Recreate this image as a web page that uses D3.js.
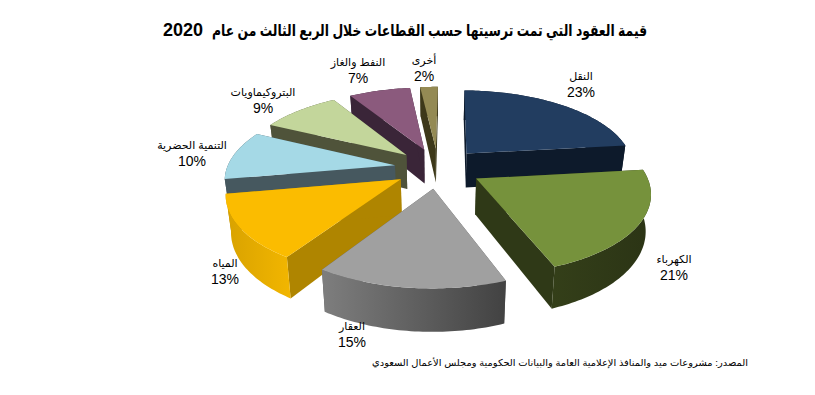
<!DOCTYPE html>
<html lang="ar">
<head>
<meta charset="utf-8">
<script src="https://cdn.jsdelivr.net/npm/d3@7"></script>
<style>
    html, body { margin: 0; padding: 0; background: #fff; }
    svg { display: block; font-family: "Liberation Sans", Arial, "DejaVu Sans", sans-serif; }
</style>
</head>
<body>
<div id="chart"></div>
<script>
// Données
const sectors = ["النقل", "الكهرباء", "العقار", "المياه", "التنمية الحضرية", "البتروكيماويات", "النفط والغاز", "أخرى"];
const shares = [23, 21, 15, 13, 10, 9, 7, 2];

const chartTitle = "قيمة العقود التي تمت ترسيتها حسب القطاعات خلال الربع الثالث من عام";
const chartYear = "2020";
const sourceNote = "المصدر: مشروعات ميد والمنافذ الإعلامية العامة والبيانات الحكومية ومجلس الأعمال السعودي";

// Couleurs : dessus, coupe, paroi (clair -> foncé)
const topColors = ["#223d60", "#76923c", "#a0a0a0", "#fbbc00", "#a5d9e6", "#c3d69b", "#8b5a7d", "#948a54"];
const cutColors = ["#0d1a2b", "#2f3917", "#585858", "#af8500", "#46585f", "#4f533a", "#3a2538", "#3d3819"];
const wallLight = ["#0d1a2b", "#343f19", "#7e7e7e", "#d8a200", "#46585f", "#4f533a", "#3a2538", "#3d3819"];
const wallDark = ["#0d1a2b", "#2b3415", "#424242", "#f2b600", "#46585f", "#4f533a", "#3a2538", "#3d3819"];

// Emplacement des étiquettes (centre du texte)
const labelX = [581, 674, 352, 225, 192, 263, 358, 424];
const labelY = [76, 259, 326, 263, 145, 92, 62, 60];

const width = 815;
const height = 395;

// Géométrie du camembert en perspective
const cx = 438;
const cy = 168;
const radiusX = 168;
const radiusY = 77;
const persp = 0.155;
const wallHeight = 35;
const bottomShrink = 0.975;
const explode = 0.26;
const rotation = 0.012;

const svg = d3.select("#chart").append("svg").attr("width", width).attr("height", height);
const defs = svg.append("defs");

svg.append("rect").attr("width", width).attr("height", height).attr("fill", "#fff");

// u : droite, v : vers le fond, z : 0 dessus, 1 dessous
function project(u, v, z) {
    const s = 1 / (1 + persp * v);
    const shrink = z ? bottomShrink : 1;
    return [
        cx + u * radiusX * s * shrink,
        cy - v * radiusY * s + z * wallHeight * s
    ];
}

const pie = d3.pie().sort(null).startAngle(rotation).endAngle(rotation + 2 * Math.PI);
const arcs = pie(shares).map((d, i) => ({ ...d, i, mid: (d.startAngle + d.endAngle) / 2 }));

const line = d3.line();

function apex(d) {
    return [explode * Math.sin(d.mid), explode * Math.cos(d.mid)];
}

function rim(d, a) {
    const [ax, ay] = apex(d);
    return [ax + Math.sin(a), ay + Math.cos(a)];
}

function rimAngles(d) {
    const n = Math.max(4, Math.ceil((d.endAngle - d.startAngle) / 0.02));
    return d3.range(n + 1).map(k => d.startAngle + (d.endAngle - d.startAngle) * k / n);
}

// Du fond vers l'avant
const drawOrder = [...arcs].sort((a, b) => Math.cos(b.mid) - Math.cos(a.mid));

const slices = svg.append("g").selectAll("g")
    .data(drawOrder)
    .join("g");

slices.each(function(d) {
    const g = d3.select(this);
    const [ax, ay] = apex(d);

    const gradId = "wall-" + d.i;
    const grad = defs.append("linearGradient").attr("id", gradId);
    grad.append("stop").attr("offset", "0%").attr("stop-color", wallLight[d.i]);
    grad.append("stop").attr("offset", "100%").attr("stop-color", wallDark[d.i]);

    [d.startAngle, d.endAngle].forEach(a => {
        const [rx, ry] = rim(d, a);
        g.append("path")
            .attr("d", line([project(ax, ay, 0), project(rx, ry, 0), project(rx, ry, 1), project(ax, ay, 1)]) + "Z")
            .attr("fill", cutColors[d.i]);
    });

    const angles = rimAngles(d);
    const upper = angles.map(a => { const [u, v] = rim(d, a); return project(u, v, 0); });
    const lower = angles.map(a => { const [u, v] = rim(d, a); return project(u, v, 1); }).reverse();

    g.append("path")
        .attr("d", line([...upper, ...lower]) + "Z")
        .attr("fill", `url(#${gradId})`);

    g.append("path")
        .attr("d", line([project(ax, ay, 0), ...upper]) + "Z")
        .attr("fill", topColors[d.i]);
});

// Titre et source
svg.append("text")
    .attr("x", 429.5)
    .attr("y", 36)
    .attr("direction", "rtl")
    .attr("text-anchor", "middle")
    .attr("textLength", 435)
    .attr("lengthAdjust", "spacingAndGlyphs")
    .style("font-size", "16px")
    .style("font-weight", "bold")
    .style("fill", "#000")
    .text(chartTitle);

svg.append("text")
    .attr("x", 163)
    .attr("y", 36)
    .style("font-size", "18px")
    .style("font-weight", "bold")
    .style("fill", "#000")
    .text(chartYear);

svg.append("text")
    .attr("x", 560)
    .attr("y", 366)
    .attr("direction", "rtl")
    .attr("text-anchor", "middle")
    .attr("textLength", 376)
    .attr("lengthAdjust", "spacingAndGlyphs")
    .style("font-size", "9.5px")
    .style("fill", "#000")
    .text(sourceNote);

// Étiquettes
const labels = svg.append("g").selectAll("g")
    .data(arcs)
    .join("g")
    .attr("transform", d => `translate(${labelX[d.i]},${labelY[d.i]})`)
    .attr("text-anchor", "middle")
    .style("fill", "#000");

labels.append("text")
    .attr("y", 4)
    .attr("direction", "rtl")
    .style("font-size", "11px")
    .text(d => sectors[d.i]);

labels.append("text")
    .attr("y", 21)
    .style("font-size", "14px")
    .text(d => d.value + "%");
</script>
</body>
</html>
